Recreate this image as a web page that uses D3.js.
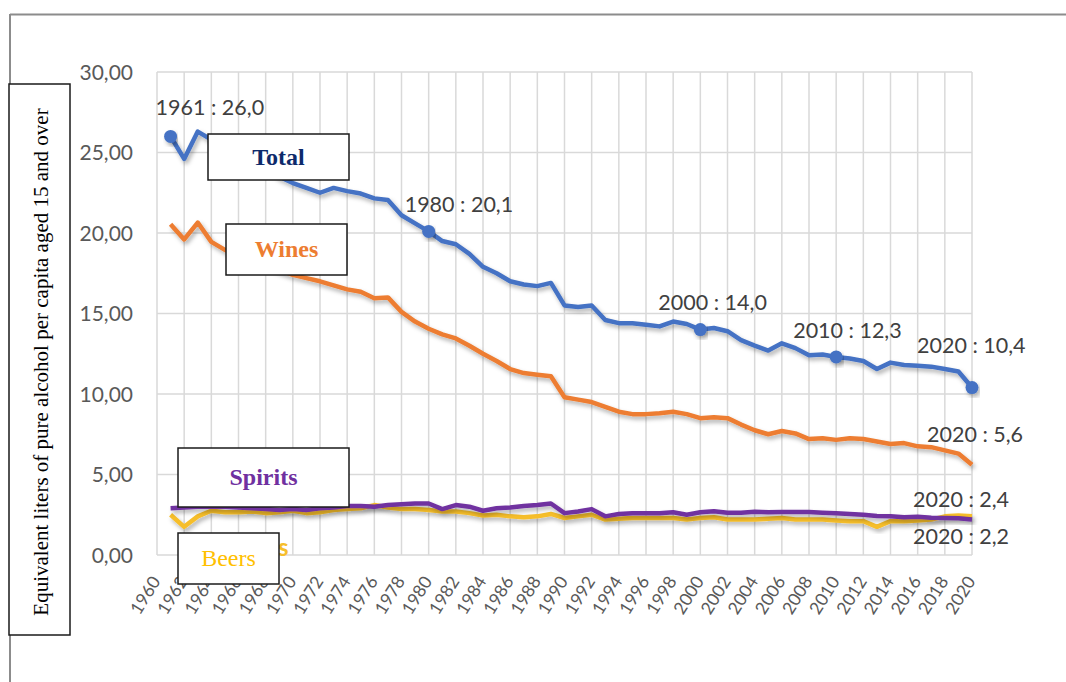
<!DOCTYPE html>
<html>
<head>
<meta charset="utf-8">
<script src="https://cdn.jsdelivr.net/npm/d3@7.9.0/dist/d3.min.js"></script>
<style>
  body { margin: 0; background: #fff; }
  svg { display: block; }
</style>
</head>
<body>
<div id="viz"></div>
<script>
// years 1961..2020
const years = d3.range(1961, 2021);

const total = [26.0, 24.6, 26.3, 25.8, 25.4, 25.0, 24.6, 24.1, 23.5, 23.1,
  22.8, 22.5, 22.8, 22.6, 22.45, 22.15, 22.05, 21.1, 20.6, 20.1,
  19.5, 19.3, 18.7, 17.9, 17.5, 17.0, 16.8, 16.7, 16.9, 15.5,
  15.4, 15.5, 14.6, 14.4, 14.4, 14.3, 14.2, 14.5, 14.35, 14.0,
  14.1, 13.9, 13.35, 13.0, 12.7, 13.15, 12.85, 12.4, 12.45, 12.3,
  12.2, 12.05, 11.55, 11.95, 11.8, 11.75, 11.7, 11.55, 11.4, 10.4];

const wines = [20.55, 19.6, 20.65, 19.45, 18.95, 18.6, 18.3, 18.0, 17.7, 17.4,
  17.2, 17.0, 16.75, 16.5, 16.35, 15.95, 16.0, 15.1, 14.5, 14.05,
  13.7, 13.45, 13.0, 12.5, 12.05, 11.55, 11.3, 11.2, 11.1, 9.8,
  9.65, 9.5, 9.2, 8.9, 8.75, 8.75, 8.8, 8.9, 8.75, 8.5,
  8.55, 8.5, 8.1, 7.75, 7.5, 7.7, 7.55, 7.2, 7.25, 7.15,
  7.25, 7.2, 7.05, 6.9, 6.95, 6.75, 6.7, 6.5, 6.3, 5.6];

const spirits = [2.9, 2.95, 3.0, 3.0, 3.0, 2.95, 2.9, 2.85, 2.8, 2.85,
  2.8, 2.9, 2.95, 3.05, 3.05, 3.0, 3.1, 3.15, 3.2, 3.2,
  2.85, 3.1, 3.0, 2.75, 2.9, 2.95, 3.05, 3.1, 3.2, 2.6,
  2.7, 2.85, 2.4, 2.55, 2.6, 2.6, 2.6, 2.65, 2.5, 2.65,
  2.72, 2.62, 2.63, 2.68, 2.65, 2.67, 2.67, 2.67, 2.63, 2.6,
  2.55, 2.5, 2.42, 2.4, 2.35, 2.38, 2.32, 2.3, 2.28, 2.2];

const beers = [2.5, 1.75, 2.4, 2.75, 2.65, 2.65, 2.7, 2.6, 2.65, 2.75,
  2.6, 2.65, 2.8, 2.85, 2.9, 3.1, 2.95, 2.85, 2.85, 2.8,
  2.7, 2.7, 2.6, 2.45, 2.5, 2.4, 2.35, 2.4, 2.55, 2.3,
  2.4, 2.5, 2.2, 2.25, 2.3, 2.3, 2.3, 2.3, 2.2, 2.3,
  2.35, 2.2, 2.2, 2.2, 2.25, 2.3, 2.2, 2.2, 2.2, 2.15,
  2.1, 2.1, 1.75, 2.1, 2.1, 2.15, 2.2, 2.4, 2.45, 2.4];

const xTicks = d3.range(1960, 2021, 2);
const yTicks = [0, 5, 10, 15, 20, 25, 30];

// highlighted points on the total line
const totalLabels = [
  { year: 1961, value: 26.0, text: "1961 : 26,0", dx: -15, dy: -21 },
  { year: 1980, value: 20.1, text: "1980 : 20,1", dx: -24, dy: -19 },
  { year: 2000, value: 14.0, text: "2000 : 14,0", dx: -42, dy: -20 },
  { year: 2010, value: 12.3, text: "2010 : 12,3", dx: -43, dy: -19 },
  { year: 2020, value: 10.4, text: "2020 : 10,4", dx: -55, dy: -35 }
];
const endLabels = [
  { value: 5.6, text: "2020 : 5,6", dx: -45, dy: -23 },
  { value: 2.4, text: "2020 : 2,4", dx: -59, dy: -9 },
  { value: 2.2, text: "2020 : 2,2", dx: -59, dy: 24 }
];

const W = 1066, H = 682;
const plot = { left: 157, right: 972, top: 72, bottom: 555 };

const svg = d3.select("#viz").append("svg")
  .attr("width", W)
  .attr("height", H);

const defs = svg.append("defs");
const shadow = defs.append("filter")
  .attr("id", "shadow")
  .attr("x", "-5%").attr("y", "-20%")
  .attr("width", "110%").attr("height", "150%");
shadow.append("feDropShadow")
  .attr("dx", 2).attr("dy", 3)
  .attr("stdDeviation", 2)
  .attr("flood-color", "#000")
  .attr("flood-opacity", 0.3);

// outer frame (top and left edges visible)
svg.append("line")
  .attr("x1", 10).attr("x2", W).attr("y1", 14.5).attr("y2", 14.5)
  .attr("stroke", "#8c8c8c").attr("stroke-width", 2);
svg.append("line")
  .attr("x1", 10).attr("x2", 10).attr("y1", 14).attr("y2", H)
  .attr("stroke", "#8c8c8c").attr("stroke-width", 2);

const x = d3.scaleLinear().domain([1960, 2020]).range([plot.left, plot.right]);
const y = d3.scaleLinear().domain([0, 30]).range([plot.bottom, plot.top]);

// gridlines
svg.append("g")
  .selectAll("line")
  .data(yTicks)
  .join("line")
  .attr("x1", plot.left).attr("x2", plot.right)
  .attr("y1", d => y(d)).attr("y2", d => y(d))
  .attr("stroke", "#d9d9d9").attr("stroke-width", 1.5);

svg.append("g")
  .selectAll("line")
  .data(xTicks)
  .join("line")
  .attr("x1", d => x(d)).attr("x2", d => x(d))
  .attr("y1", plot.top).attr("y2", plot.bottom)
  .attr("stroke", "#d9d9d9").attr("stroke-width", 1.5);

// y tick labels
svg.append("g")
  .selectAll("text")
  .data(yTicks)
  .join("text")
  .attr("x", 133)
  .attr("y", d => y(d))
  .attr("dy", "0.36em")
  .attr("text-anchor", "end")
  .style("font-family", "Lato, sans-serif")
  .style("font-size", "21px")
  .style("fill", "#595959")
  .text(d => d3.format(".2f")(d).replace(".", ","));

// x tick labels
svg.append("g")
  .selectAll("text")
  .data(xTicks)
  .join("text")
  .attr("transform", d => `translate(${x(d) - 1},${plot.bottom + 23}) rotate(-58)`)
  .attr("dy", "0.35em")
  .attr("text-anchor", "end")
  .style("font-family", "Lato, sans-serif")
  .style("font-size", "17.5px")
  .style("fill", "#595959")
  .text(d => d);

// tail of the original series name peeking out behind the Beers box
svg.append("text")
  .attr("x", 278).attr("y", 556)
  .style("font-family", "Lato, sans-serif")
  .style("font-weight", "bold")
  .style("font-size", "24px")
  .style("fill", "#f6be2c")
  .text("s");

const series = [
  { name: "Beers", values: beers, color: "#f6be2c" },
  { name: "Spirits", values: spirits, color: "#7030a0" },
  { name: "Wines", values: wines, color: "#ed7d31" },
  { name: "Total", values: total, color: "#4472c4" }
];

const line = d3.line()
  .x((d, i) => x(years[i]))
  .y(d => y(d));

svg.append("g")
  .selectAll("path")
  .data(series)
  .join("path")
  .attr("d", d => line(d.values))
  .attr("fill", "none")
  .attr("stroke", d => d.color)
  .attr("stroke-width", 4.5)
  .attr("stroke-linejoin", "round")
  .attr("filter", "url(#shadow)");

// markers on total
svg.append("g")
  .selectAll("circle")
  .data(totalLabels)
  .join("circle")
  .attr("cx", d => x(d.year))
  .attr("cy", d => y(d.value))
  .attr("r", 6.5)
  .attr("fill", "#4472c4")
  .attr("filter", "url(#shadow)");

const labelStyle = sel => sel
  .style("font-family", "Lato, sans-serif")
  .style("font-size", "21.5px")
  .style("fill", "#404040");

svg.append("g")
  .selectAll("text")
  .data(totalLabels)
  .join("text")
  .attr("x", d => x(d.year) + d.dx)
  .attr("y", d => y(d.value) + d.dy)
  .call(labelStyle)
  .text(d => d.text);

svg.append("g")
  .selectAll("text")
  .data(endLabels)
  .join("text")
  .attr("x", d => x(2020) + d.dx)
  .attr("y", d => y(d.value) + d.dy)
  .call(labelStyle)
  .text(d => d.text);

// legend boxes
const boxes = [
  { text: "Total", x0: 208, y0: 134, x1: 349, y1: 180, color: "#0d2a6b", bold: true },
  { text: "Wines", x0: 226, y0: 224, x1: 347, y1: 275, color: "#ed7d31", bold: true },
  { text: "Spirits", x0: 178, y0: 448, x1: 349, y1: 507, color: "#7030a0", bold: true },
  { text: "Beers", x0: 178, y0: 533, x1: 279, y1: 584, color: "#ffc000", bold: false }
];

const box = svg.append("g")
  .selectAll("g")
  .data(boxes)
  .join("g");

box.append("rect")
  .attr("x", d => d.x0).attr("y", d => d.y0)
  .attr("width", d => d.x1 - d.x0).attr("height", d => d.y1 - d.y0)
  .attr("fill", "#fff")
  .attr("stroke", "#1a1a1a")
  .attr("stroke-width", 1.5);

box.append("text")
  .attr("x", d => (d.x0 + d.x1) / 2)
  .attr("y", d => (d.y0 + d.y1) / 2)
  .attr("dy", "0.33em")
  .attr("text-anchor", "middle")
  .style("font-family", "'Liberation Serif', 'Times New Roman', serif")
  .style("font-size", "24px")
  .style("font-weight", d => d.bold ? "bold" : "normal")
  .style("fill", d => d.color)
  .text(d => d.text);

// y axis title box
svg.append("rect")
  .attr("x", 9).attr("y", 84)
  .attr("width", 61).attr("height", 551)
  .attr("fill", "#fff")
  .attr("stroke", "#1a1a1a")
  .attr("stroke-width", 1.5);

svg.append("text")
  .attr("transform", "translate(41,362) rotate(-90)")
  .attr("dy", "0.33em")
  .attr("text-anchor", "middle")
  .style("font-family", "'Liberation Serif', 'Times New Roman', serif")
  .style("font-size", "21px")
  .style("fill", "#000")
  .text("Equivalent liters of pure alcohol per capita aged 15 and over");
</script>
</body>
</html>
